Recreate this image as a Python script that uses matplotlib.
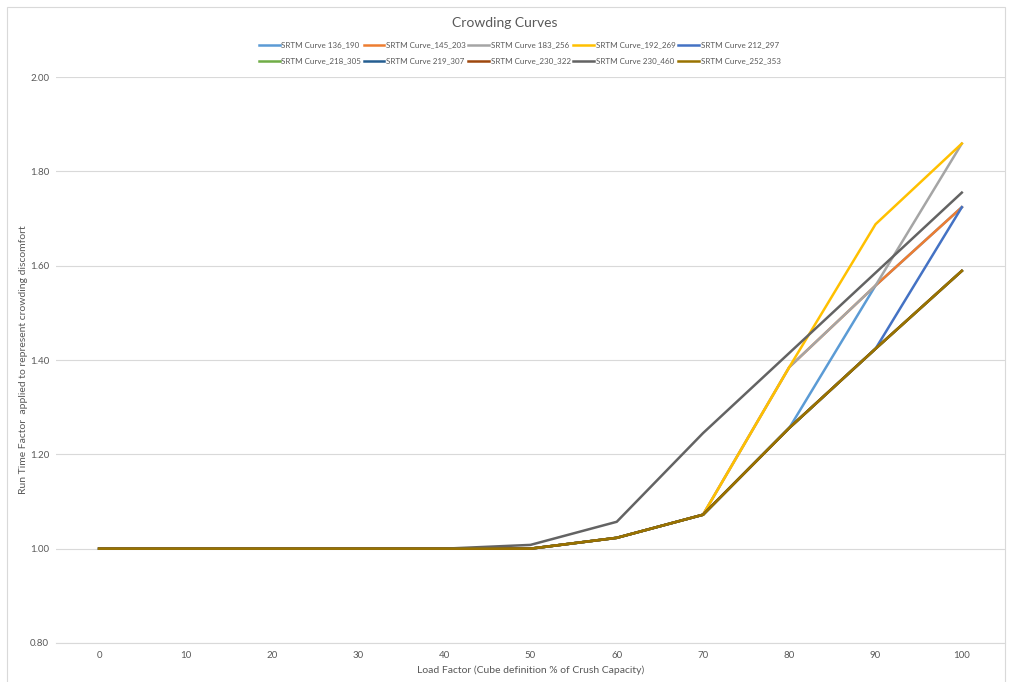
import matplotlib.pyplot as plt
from matplotlib.patches import Rectangle

load_factor = [0, 10, 20, 30, 40, 50, 60, 70, 80, 90, 100]

# shared tail used by most of the curves
base = [1.0, 1.0, 1.0, 1.0, 1.0, 1.0, 1.023, 1.072, 1.256, 1.424, 1.589]

curve_136_190 = [1.0, 1.0, 1.0, 1.0, 1.0, 1.0, 1.023, 1.072, 1.256, 1.558, 1.724]
curve_145_203 = [1.0, 1.0, 1.0, 1.0, 1.0, 1.0, 1.023, 1.072, 1.385, 1.558, 1.724]
curve_183_256 = [1.0, 1.0, 1.0, 1.0, 1.0, 1.0, 1.023, 1.072, 1.385, 1.558, 1.859]
curve_192_269 = [1.0, 1.0, 1.0, 1.0, 1.0, 1.0, 1.023, 1.072, 1.385, 1.688, 1.859]
curve_212_297 = [1.0, 1.0, 1.0, 1.0, 1.0, 1.0, 1.023, 1.072, 1.256, 1.424, 1.724]
curve_218_305 = base
curve_219_307 = base
curve_230_322 = base
curve_230_460 = [1.0, 1.0, 1.0, 1.0, 1.0, 1.008, 1.057, 1.245, 1.415, 1.585, 1.755]
curve_252_353 = base

labels = ["SRTM Curve 136_190", "SRTM Curve_145_203", "SRTM Curve 183_256",
          "SRTM Curve_192_269", "SRTM Curve 212_297", "SRTM Curve_218_305",
          "SRTM Curve 219_307", "SRTM Curve_230_322", "SRTM Curve 230_460",
          "SRTM Curve_252_353"]
series = [curve_136_190, curve_145_203, curve_183_256, curve_192_269,
          curve_212_297, curve_218_305, curve_219_307, curve_230_322,
          curve_230_460, curve_252_353]
colors = ["#5B9BD5", "#ED7D31", "#A5A5A5", "#FFC000", "#4472C4",
          "#70AD47", "#255E91", "#9E480E", "#636363", "#997300"]

txt = "#595959"
plt.rcParams['font.family'] = ['Lato', 'DejaVu Sans']

fig = plt.figure(figsize=(10.09, 6.82), dpi=100)
ax = fig.add_axes([0.0555, 0.0572, 0.9405, 0.8298])

x = list(range(len(load_factor)))
handles = []
for vals, lab, col in zip(series, labels, colors):
    h, = ax.plot(x, vals, color=col, lw=1.8, label=lab, solid_joinstyle='round')
    handles.append(h)

ax.set_xlim(-0.5, len(load_factor) - 0.5)
ax.set_ylim(0.8, 2.0)
ax.set_yticks([0.8, 1.0, 1.2, 1.4, 1.6, 1.8, 2.0])
ax.set_yticklabels(["%.2f" % v for v in ax.get_yticks()])
ax.set_xticks(x)
ax.set_xticklabels([str(v) for v in load_factor])
ax.tick_params(axis='both', length=0, labelsize=7, colors=txt)
ax.tick_params(axis='y', pad=5)
ax.tick_params(axis='x', pad=6)

ax.grid(axis='y', color="#D9D9D9", lw=0.8)
ax.set_axisbelow(True)
for side in ['top', 'right', 'left']:
    ax.spines[side].set_visible(False)
ax.spines['bottom'].set_color("#D9D9D9")
ax.spines['bottom'].set_linewidth(0.8)

ax.set_xlabel("Load Factor (Cube definition % of Crush Capacity)", fontsize=7.5,
              color=txt, labelpad=4)
ax.set_ylabel("Run Time Factor  applied to represent crowding discomfort",
              fontsize=7.5, color=txt)
ax.yaxis.set_label_coords(-0.029, 0.5)

fig.text(0.5, 0.967, "Crowding Curves", ha='center', va='center', fontsize=10,
         color=txt)

# matplotlib fills legend columns first, so reorder to read across rows
ncol = 5
order = [r * ncol + c for c in range(ncol) for r in range(2)]
fig.legend([handles[i] for i in order], [labels[i] for i in order],
           loc='center', bbox_to_anchor=(0.515, 0.922), ncol=ncol,
           frameon=False, fontsize=5.8, labelcolor=txt, handlelength=2.6,
           handletextpad=0.2, columnspacing=0.3, borderpad=0, labelspacing=1.1)

fig.patches.append(Rectangle((0.007, -0.01), 0.989, 1.0,
                             transform=fig.transFigure, fill=False,
                             edgecolor="#D9D9D9", lw=0.8))

fig.savefig("out.png", dpi=100)
